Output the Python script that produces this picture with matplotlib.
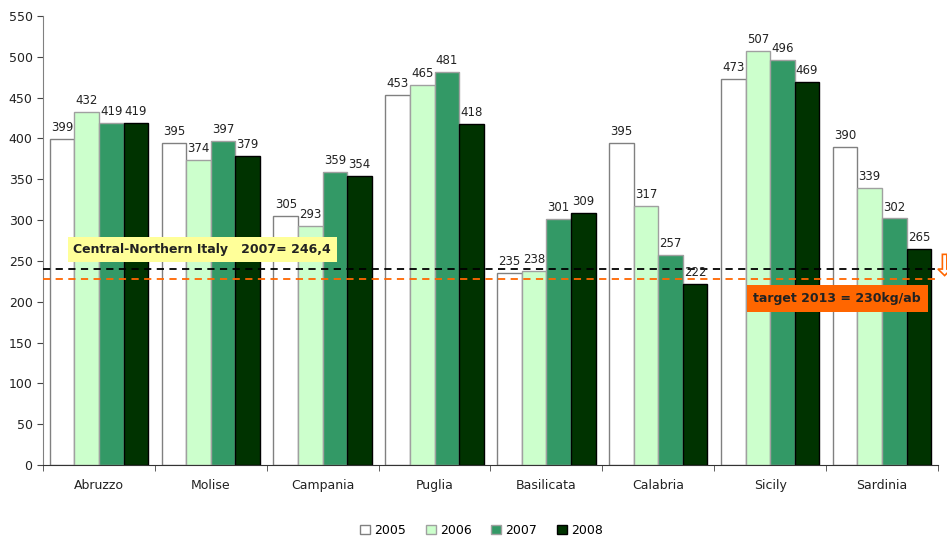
import numpy as np
import matplotlib.pyplot as plt
from matplotlib.patches import FancyArrow

regions = ['Abruzzo', 'Molise', 'Campania', 'Puglia', 'Basilicata', 'Calabria', 'Sicily', 'Sardinia']
years = ['2005', '2006', '2007', '2008']
v2005 = [399, 395, 305, 453, 235, 395, 473, 390]
v2006 = [432, 374, 293, 465, 238, 317, 507, 339]
v2007 = [419, 397, 359, 481, 301, 257, 496, 302]
v2008 = [419, 379, 354, 418, 309, 222, 469, 265]
north_line = 240.5
target_line = 227.5

colors = ['#FFFFFF', '#CCFFCC', '#339966', '#003300']
edges = ['#808080', '#A0A0A0', '#A0A0A0', '#000000']

fig = plt.figure(figsize=(9.47, 5.41), dpi=100)
ax = fig.add_axes([0.0454, 0.1405, 0.945, 0.83])

x = np.arange(len(regions))
w = 0.22
series = [v2005, v2006, v2007, v2008]
for i, vals in enumerate(series):
    pos = x + (i - 1.5) * w
    ax.bar(pos, vals, w, color=colors[i], edgecolor=edges[i], linewidth=1, label=years[i], zorder=2)
    for p, v in zip(pos, vals):
        ax.text(p, v + 6, str(v), ha='center', va='bottom', fontsize=8.5, color='#222222', zorder=4)

ax.axhline(north_line, xmin=0, xmax=0.997, color='black', linestyle=(0, (4, 3)), linewidth=1.3, zorder=3)
ax.axhline(target_line, color='#FF6600', linestyle=(0, (4, 3)), linewidth=1.3, zorder=3)

ax.text(-0.23, 264, 'Central-Northern Italy   2007= 246,4', fontsize=9, fontweight='bold', color='#222222',
        ha='left', va='center', zorder=5,
        bbox=dict(boxstyle='square,pad=0.45', facecolor='#FFFF99', edgecolor='none'))
ax.text(6.60, 204, 'target 2013 = 230kg/ab', fontsize=9, fontweight='bold', color='#222222',
        ha='center', va='center', zorder=5,
        bbox=dict(boxstyle='square,pad=0.55', facecolor='#FF6600', edgecolor='none'))

arrow = FancyArrow(7.56, 258, 0, -26, width=0.04, head_width=0.12, head_length=8,
                   length_includes_head=True, facecolor='#FFFFFF', edgecolor='#FF6600',
                   linewidth=1.2, clip_on=False, zorder=5)
ax.add_patch(arrow)

ax.set_xlim(-0.5, len(regions) - 0.5)
ax.set_ylim(0, 550)
ax.set_yticks(range(0, 551, 50))
ax.set_xticks(x)
ax.set_xticklabels(regions, fontsize=9, color='#222222')
ax.set_xticks(np.arange(-0.5, len(regions), 1), minor=True)
ax.tick_params(axis='x', which='major', length=0, pad=10)
ax.tick_params(axis='x', which='minor', length=4, direction='out', color='#444444')
ax.tick_params(axis='y', labelsize=9, length=4, color='#444444', labelcolor='#222222')
ax.spines['top'].set_visible(False)
ax.spines['right'].set_visible(False)
ax.spines['left'].set_color('#808080')
ax.spines['bottom'].set_color('#333333')

ax.legend(loc='lower center', bbox_to_anchor=(0.49, -0.185), ncol=4, frameon=False, fontsize=9,
          handlelength=0.8, handleheight=0.8, columnspacing=1.6, handletextpad=0.3)

fig.savefig('out.png', dpi=100)
